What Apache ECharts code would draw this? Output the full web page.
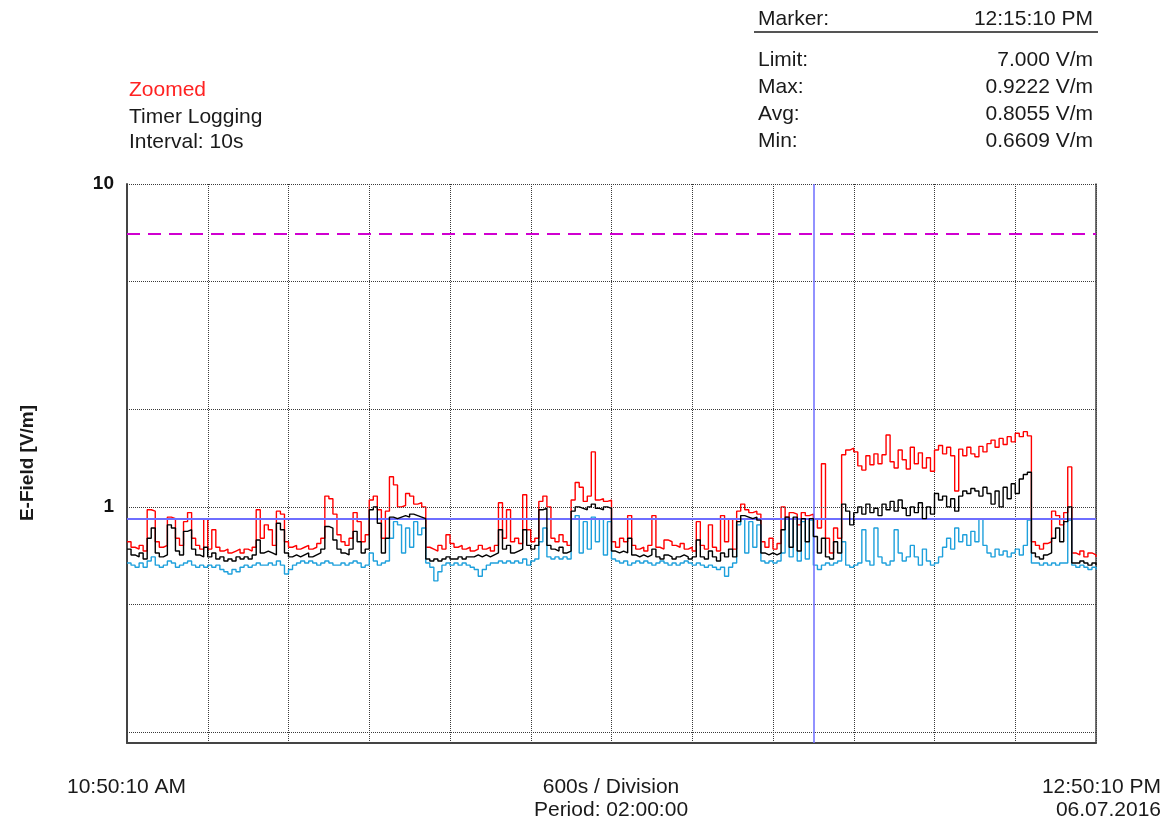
<!DOCTYPE html>
<html><head><meta charset="utf-8">
<script src="https://cdn.jsdelivr.net/npm/echarts@6/dist/echarts.min.js"></script>
<style>html,body{margin:0;padding:0;background:#fff}#c{width:1170px;height:825px}</style>
</head><body><div id="c"></div>
<script>
// ---- data ----
const START_SECONDS = 0;
const END_SECONDS = 7200;
const DIVISION_SECONDS = 600;
const SAMPLE_SECONDS = 30;
const Y_MIN = 0.1857;
const Y_MAX = 10;
const Y_TICK_LABELS = [1, 10];
const Y_GRID_VALUES = [0.2, 0.5, 1, 2, 5, 10];
const LIMIT_VALUE = 7.0;
const MARKER_SECONDS = 5100;
const MARKER_MAX = 0.9222;

const maxValues = [
0.78,0.75,0.74,0.76,0.73,0.98,0.97,0.78,0.75,0.76,
0.93,0.92,0.80,0.76,0.90,0.96,0.80,0.76,0.74,0.92,
0.74,0.85,0.75,0.73,0.74,0.72,0.73,0.74,0.72,0.74,
0.73,0.75,0.98,0.80,0.88,0.85,0.76,0.97,0.95,0.78,
0.75,0.76,0.74,0.75,0.76,0.74,0.75,0.77,0.80,1.08,
1.06,0.95,0.82,0.78,0.76,0.80,0.96,0.90,0.78,0.82,
1.05,1.08,0.98,0.80,0.97,1.24,1.17,1.00,1.01,1.10,
1.08,1.02,1.03,1.00,0.75,0.74,0.73,0.76,0.74,0.82,
0.77,0.75,0.76,0.74,0.75,0.73,0.74,0.76,0.74,0.75,
0.73,0.76,1.03,0.80,0.98,0.78,0.80,0.77,1.09,0.85,
0.78,0.80,1.04,1.08,1.00,0.80,0.78,0.82,0.78,0.76,
1.05,1.19,1.15,1.04,1.08,1.48,1.05,1.06,1.04,1.05,
0.78,0.75,0.80,0.78,0.94,0.76,0.74,0.75,0.73,0.76,
0.94,0.75,0.74,0.79,0.78,0.76,0.75,0.77,0.74,0.75,
0.73,0.90,0.76,0.74,0.88,0.75,0.73,0.94,0.78,0.92,
0.74,0.97,1.02,0.98,0.96,0.97,0.95,0.78,0.75,0.80,
0.74,0.77,1.00,0.93,0.96,0.95,0.88,0.96,0.94,0.95,
0.92,0.86,1.36,0.80,0.72,0.86,0.80,1.45,1.50,1.52,
1.48,1.34,1.30,1.44,1.35,1.46,1.36,1.45,1.67,1.38,
1.32,1.50,1.40,1.31,1.53,1.36,1.47,1.32,1.42,1.29,
1.50,1.55,1.46,1.53,1.44,1.12,1.51,1.44,1.53,1.46,
1.43,1.54,1.48,1.57,1.61,1.53,1.63,1.56,1.65,1.59,
1.69,1.65,1.71,1.66,0.78,0.76,0.74,0.77,0.78,0.97,
0.94,0.88,0.96,1.33,0.72,0.71,0.73,0.70,0.72,0.71,
0.70
];

const avgValues = [
0.74,0.71,0.70,0.72,0.69,0.80,0.86,0.72,0.70,0.71,
0.88,0.86,0.73,0.71,0.84,0.85,0.74,0.71,0.70,0.75,
0.70,0.72,0.69,0.70,0.68,0.69,0.68,0.70,0.69,0.70,
0.69,0.71,0.79,0.72,0.73,0.72,0.71,0.89,0.85,0.72,
0.70,0.71,0.70,0.71,0.72,0.70,0.71,0.72,0.74,0.87,
0.86,0.79,0.74,0.72,0.71,0.74,0.84,0.78,0.72,0.74,
0.98,1.00,0.89,0.72,0.80,0.93,0.92,0.93,0.94,0.93,
0.95,0.94,0.93,0.92,0.69,0.68,0.69,0.68,0.69,0.70,
0.69,0.69,0.70,0.69,0.70,0.70,0.71,0.70,0.71,0.70,
0.71,0.72,0.85,0.74,0.76,0.72,0.73,0.74,0.85,0.76,
0.74,0.76,0.98,0.99,0.76,0.74,0.73,0.75,0.72,0.73,
0.97,1.00,0.99,0.98,1.00,1.02,0.99,0.98,1.00,0.99,
0.73,0.72,0.73,0.72,0.80,0.71,0.70,0.71,0.70,0.71,
0.74,0.70,0.69,0.71,0.70,0.69,0.70,0.71,0.70,0.69,
0.70,0.79,0.70,0.69,0.73,0.70,0.68,0.72,0.70,0.74,
0.70,0.90,0.94,0.93,0.92,0.93,0.91,0.72,0.71,0.72,
0.71,0.72,0.85,0.93,0.75,0.93,0.73,0.92,0.78,0.92,
0.81,0.72,0.80,0.70,0.69,0.78,0.72,1.02,0.97,0.88,
0.96,1.00,0.95,1.02,0.96,0.99,0.94,1.02,0.98,1.04,
0.97,1.05,0.99,0.94,1.00,0.96,1.03,0.92,1.00,0.95,
1.10,1.05,1.08,1.00,1.06,0.97,1.08,1.12,1.10,1.14,
1.12,1.08,1.15,1.10,1.02,1.12,1.00,1.15,1.06,1.18,
1.10,1.22,1.26,1.28,0.72,0.70,0.69,0.71,0.72,0.80,
0.86,0.78,0.90,1.00,0.67,0.67,0.68,0.67,0.66,0.67,
0.66
];

const minValues = [
0.67,0.66,0.65,0.67,0.65,0.68,0.70,0.66,0.65,0.66,
0.68,0.67,0.65,0.66,0.67,0.68,0.66,0.65,0.66,0.65,
0.66,0.65,0.66,0.64,0.63,0.62,0.64,0.63,0.65,0.66,
0.65,0.66,0.67,0.66,0.66,0.67,0.66,0.68,0.66,0.62,
0.64,0.66,0.67,0.68,0.67,0.68,0.67,0.66,0.67,0.68,
0.67,0.66,0.66,0.67,0.66,0.67,0.68,0.67,0.65,0.66,
0.72,0.68,0.66,0.67,0.68,0.80,0.90,0.88,0.72,0.86,
0.75,0.90,0.82,0.86,0.67,0.65,0.59,0.63,0.66,0.67,
0.66,0.67,0.66,0.67,0.66,0.65,0.64,0.61,0.64,0.66,
0.67,0.67,0.68,0.67,0.68,0.67,0.68,0.67,0.69,0.66,
0.68,0.69,0.78,0.86,0.70,0.69,0.70,0.69,0.70,0.69,
0.92,0.94,0.72,0.90,0.74,0.93,0.78,0.92,0.71,0.90,
0.69,0.68,0.67,0.68,0.66,0.67,0.68,0.67,0.68,0.67,
0.66,0.67,0.68,0.67,0.66,0.67,0.66,0.67,0.68,0.67,
0.66,0.67,0.66,0.65,0.66,0.65,0.64,0.65,0.61,0.65,
0.67,0.88,0.92,0.72,0.90,0.75,0.88,0.68,0.67,0.68,
0.67,0.68,0.72,0.92,0.70,0.92,0.68,0.90,0.69,0.91,
0.66,0.64,0.66,0.67,0.66,0.67,0.68,0.78,0.66,0.65,
0.66,0.67,0.85,0.68,0.66,0.86,0.70,0.67,0.66,0.68,
0.85,0.72,0.68,0.70,0.76,0.70,0.66,0.74,0.68,0.66,
0.67,0.70,0.75,0.80,0.74,0.86,0.78,0.82,0.76,0.84,
0.78,0.92,0.76,0.72,0.70,0.74,0.71,0.73,0.70,0.72,
0.74,0.71,0.76,0.91,0.67,0.67,0.66,0.67,0.66,0.67,
0.66,0.67,0.67,0.91,0.66,0.65,0.66,0.65,0.64,0.65,
0.64
];

const headerLabels = ['Limit:', 'Max:', 'Avg:', 'Min:'];
const headerValues = ['7.000 V/m', '0.9222 V/m', '0.8055 V/m', '0.6609 V/m'];

// ---- build ----
const toPairs = arr => arr.map((v, i) => [START_SECONDS + i * SAMPLE_SECONDS, v]);
const FONT = '"Liberation Sans", Arial, sans-serif';
const TXT = '#1a1a1a';
const GRID_COLOR = '#3a3a3a';
const MARK_BLUE = '#6e6eff';

const chart = echarts.init(document.getElementById('c'), null, {renderer: 'canvas'});

const g = [];
const F21 = '21px ' + FONT;
g.push({type:'text', left: 758, top: 9, style:{text:'Marker:', font:F21, fill: TXT}});
g.push({type:'text', right: 1170-1093, top: 9, style:{text:'12:15:10 PM', font:F21, fill: TXT}});
g.push({type:'line', shape:{x1:754, y1:32, x2:1098, y2:32}, style:{stroke:'#555', lineWidth:2}});
const rowY = [50, 77, 104, 131];
headerLabels.forEach((t, k) => {
  g.push({type:'text', left: 758, top: rowY[k], style:{text:t, font:F21, fill: TXT}});
  g.push({type:'text', right: 1170-1093, top: rowY[k], style:{text:headerValues[k], font:F21, fill: TXT}});
});
g.push({type:'text', left: 129, top: 80, style:{text:'Zoomed', font:F21, fill:'#ff2222'}});
g.push({type:'text', left: 129, top: 107, style:{text:'Timer Logging', font:F21, fill: TXT}});
g.push({type:'text', left: 129, top: 132, style:{text:'Interval: 10s', font:F21, fill: TXT}});
g.push({type:'text', left: 67, top: 777, style:{text:'10:50:10 AM', font:F21, fill: TXT}});
g.push({type:'text', x: 611, y: 777, style:{text:'600s / Division', font:F21, fill: TXT, textAlign:'center'}});
g.push({type:'text', x: 611, y: 800, style:{text:'Period: 02:00:00', font:F21, fill: TXT, textAlign:'center'}});
g.push({type:'text', x: 1161, y: 777, style:{text:'12:50:10 PM', font:F21, fill: TXT, textAlign:'right'}});
g.push({type:'text', x: 1161, y: 800, style:{text:'06.07.2016', font:F21, fill: TXT, textAlign:'right'}});
g.push({type:'text', x: 28, y: 463, rotation: Math.PI/2, style:{text:'E-Field [V/m]', font:'bold 19px ' + FONT, fill: TXT, textAlign:'center', textVerticalAlign:'middle'}});

const gridLines = Y_GRID_VALUES.map(v => ({yAxis: v}));

const option = {
  backgroundColor: '#fff',
  animation: false,
  grid: {left: 127, top: 184, width: 969, height: 559, show: false},
  xAxis: {
    type: 'value', min: START_SECONDS, max: END_SECONDS, interval: DIVISION_SECONDS,
    axisLine: {show: true, onZero: false, lineStyle: {color: '#444', width: 2}},
    axisTick: {show: false}, axisLabel: {show: false},
    splitLine: {show: true, lineStyle: {color: GRID_COLOR, width: 1, type: [1, 1]}}
  },
  yAxis: [{
    type: 'log', logBase: 10, min: Y_MIN, max: Y_MAX,
    axisLine: {show: true, lineStyle: {color: '#444', width: 2}},
    axisTick: {show: false},
    splitLine: {show: false},
    axisLabel: {show: true, customValues: Y_TICK_LABELS, fontFamily: FONT, fontWeight: 'bold', fontSize: 19, color: '#111', margin: 13, padding: [0,0,6,0]}
  }, {
    type: 'log', logBase: 10, min: Y_MIN, max: Y_MAX, position: 'right',
    axisLine: {show: true, lineStyle: {color: '#444', width: 1.5}},
    axisTick: {show: false}, axisLabel: {show: false}, splitLine: {show: false}
  }],
  graphic: g,
  series: [
    {
      name: 'Max', type: 'line', step: 'end', data: toPairs(maxValues), showSymbol: false,
      lineStyle: {color: '#ff0000', width: 1.4}, itemStyle: {color: '#ff0000'}, z: 3,
      markLine: {
        silent: true, symbol: ['none', 'none'], label: {show: false}, animation: false,
        data: [
          ...gridLines.map(d => ({...d, lineStyle: {color: GRID_COLOR, width: 1, type: [1, 1]}})),
          {yAxis: LIMIT_VALUE, lineStyle: {color: '#d000d0', width: 2, type: [13, 8]}},
          {xAxis: MARKER_SECONDS, lineStyle: {color: MARK_BLUE, width: 1.5, type: 'solid'}},
          {yAxis: MARKER_MAX, lineStyle: {color: MARK_BLUE, width: 2, type: 'solid'}}
        ]
      }
    },
    {
      name: 'Min', type: 'line', step: 'end', data: toPairs(minValues), showSymbol: false,
      lineStyle: {color: '#1ea0dc', width: 1.4}, itemStyle: {color: '#1ea0dc'}, z: 4
    },
    {
      name: 'Avg', type: 'line', step: 'end', data: toPairs(avgValues), showSymbol: false,
      lineStyle: {color: '#000000', width: 1.4}, itemStyle: {color: '#000'}, z: 5
    }
  ]
};
chart.setOption(option);
</script>
</body></html>
